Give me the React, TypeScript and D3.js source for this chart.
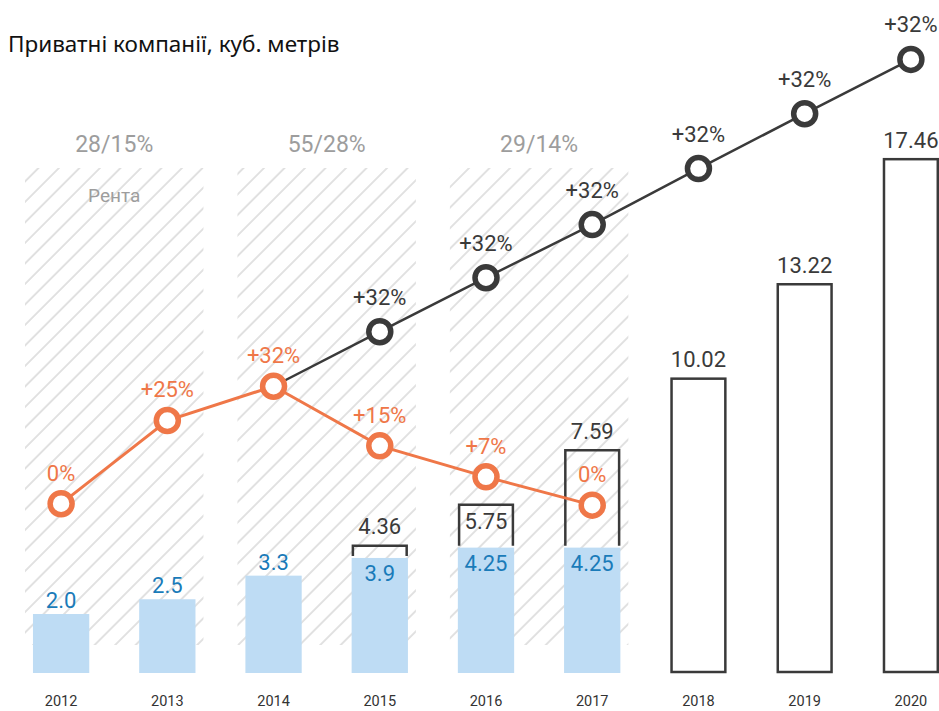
import React from 'react';
import * as d3 from 'd3';

const years = ['2012', '2013', '2014', '2015', '2016', '2017', '2018', '2019', '2020'];
// light-blue "rent" bars
const rentYears = ['2012', '2013', '2014', '2015', '2016', '2017'];
const rentValues = [2.0, 2.5, 3.3, 3.9, 4.25, 4.25];
const rentLabels = ['2.0', '2.5', '3.3', '3.9', '4.25', '4.25'];
// totals (brackets / outlined bars)
const totalYears = ['2015', '2016', '2017', '2018', '2019', '2020'];
const totalValues = [4.36, 5.75, 7.59, 10.02, 13.22, 17.46];
const totalLabels = ['4.36', '5.75', '7.59', '10.02', '13.22', '17.46'];
const totalLabelInside = ['2016'];
// orange growth line (levels, same vertical units as bars)
const orangeYears = ['2012', '2013', '2014', '2015', '2016', '2017'];
const orangeLevels = [5.74, 8.56, 9.72, 7.7, 6.65, 5.69];
const orangeLabels = ['0%', '+25%', '+32%', '+15%', '+7%', '0%'];
// black growth line
const blackYears = ['2014', '2015', '2016', '2017', '2018', '2019', '2020'];
const blackLevels = [9.72, 11.57, 13.4, 15.2, 17.1, 18.96, 20.8];
const blackLabels = ['', '+32%', '+32%', '+32%', '+32%', '+32%', '+32%'];
// hatched groups
const groupStart = ['2012', '2014', '2016'];
const groupEnd = ['2013', '2015', '2017'];
const groupLabels = ['28/15%', '55/28%', '29/14%'];
const rentLabel = 'Рента';
const title = 'Приватні компанії, куб. метрів';

const W = 939;
const H = 711;
const ORANGE = '#ef7748';
const DARK = '#3a3a3a';
const BLUE_FILL = '#bedcf4';
const BLUE_TEXT = '#1a7bb9';
const GREY = '#9d9d9d';
const NUM_FONT = 'Roboto, sans-serif';

export default function App() {
  const x = d3.scaleBand<string>().domain(years).range([8, 964]).paddingInner(0.47).paddingOuter(0.235);
  const y = d3.scaleLinear().domain([0, 20]).range([673, 673 - 590]);
  const bw = x.bandwidth();
  const cx = (yr: string) => (x(yr) as number) + bw / 2;
  const step = x.step();

  const orangePts: [number, number][] = orangeYears.map((yr, i) => [cx(yr), y(orangeLevels[i])]);
  const blackPts: [number, number][] = blackYears.map((yr, i) => [cx(yr), y(blackLevels[i])]);
  const line = d3.line();

  const hatchTop = 168;
  const hatchBottom = 645;

  return (
    <svg width={W} height={H} style={{ position: 'absolute', left: 0, top: 0, background: '#fff' }}>
      <defs>
        <pattern id="hatch" patternUnits="userSpaceOnUse" width={14.5} height={14.5} patternTransform="rotate(45)">
          <line x1={1} y1={0} x2={1} y2={14.5} stroke="#c9c9c9" strokeWidth={1.1} />
        </pattern>
      </defs>
      <rect x={0} y={0} width={W} height={H} fill="#fff" />
      <text x={8} y={52} fontFamily="'Noto Sans', sans-serif" fontSize={22.5} fill="#111">{title}</text>

      {groupStart.map((g, i) => {
        const x0 = cx(g) - 0.34 * step;
        const x1 = cx(groupEnd[i]) + 0.34 * step;
        return (
          <g key={'grp' + i}>
            <rect x={x0} y={hatchTop} width={x1 - x0} height={hatchBottom - hatchTop} fill="url(#hatch)" />
            <text x={(x0 + x1) / 2} y={152} textAnchor="middle" fontFamily={NUM_FONT} fontSize={23} fill={GREY}>{groupLabels[i]}</text>
            {i === 0 && (
              <text x={(x0 + x1) / 2} y={202} textAnchor="middle" fontFamily={NUM_FONT} fontSize={19} fill={GREY}>{rentLabel}</text>
            )}
          </g>
        );
      })}

      {rentYears.map((yr, i) => (
        <rect key={'rb' + yr} x={x(yr)} y={y(rentValues[i])} width={bw} height={y(0) - y(rentValues[i])} fill={BLUE_FILL} />
      ))}

      {totalYears.map((yr, i) => {
        const x0 = x(yr) as number;
        const ri = rentYears.indexOf(yr);
        const top = y(totalValues[i]);
        if (ri >= 0) {
          const bot = y(rentValues[ri]) - 2;
          const p = d3.path();
          p.moveTo(x0 + 1.25, bot);
          p.lineTo(x0 + 1.25, top + 1.25);
          p.lineTo(x0 + bw - 1.25, top + 1.25);
          p.lineTo(x0 + bw - 1.25, bot);
          return <path key={'br' + yr} d={p.toString()} fill="none" stroke={DARK} strokeWidth={2.5} />;
        }
        return (
          <rect key={'ob' + yr} x={x0 + 1.25} y={top + 1.25} width={bw - 2.5} height={y(0) - 1 - top - 1.25}
            fill="#fff" stroke={DARK} strokeWidth={2.5} />
        );
      })}

      {rentYears.map((yr, i) => {
        const hasTotal = totalYears.indexOf(yr) >= 0;
        const ty = hasTotal ? y(rentValues[i]) + 23 : y(rentValues[i]) - 6;
        return (
          <text key={'rl' + yr} x={cx(yr)} y={ty} textAnchor="middle" fontFamily={NUM_FONT} fontSize={22} fill={BLUE_TEXT}>{rentLabels[i]}</text>
        );
      })}

      {totalYears.map((yr, i) => {
        const inside = totalLabelInside.indexOf(yr) >= 0;
        const ty = inside ? y(totalValues[i]) + 26 : y(totalValues[i]) - 10;
        return (
          <text key={'tl' + yr} x={cx(yr)} y={ty} textAnchor="middle" fontFamily={NUM_FONT} fontSize={22} fill={DARK}>{totalLabels[i]}</text>
        );
      })}

      <path d={line(blackPts) as string} fill="none" stroke={DARK} strokeWidth={2.5} />
      <path d={line(orangePts) as string} fill="none" stroke={ORANGE} strokeWidth={3} />

      {blackPts.map((p, i) => blackLabels[i] ? (
        <g key={'bc' + i}>
          <circle cx={p[0]} cy={p[1]} r={11} fill="#fff" stroke={DARK} strokeWidth={5.5} />
          <text x={p[0]} y={p[1] - 27} textAnchor="middle" fontFamily={NUM_FONT} fontSize={22} fill={DARK}>{blackLabels[i]}</text>
        </g>
      ) : null)}

      {orangePts.map((p, i) => (
        <g key={'oc' + i}>
          <circle cx={p[0]} cy={p[1]} r={11} fill="#fff" stroke={ORANGE} strokeWidth={5.5} />
          <text x={p[0]} y={p[1] - 23} textAnchor="middle" fontFamily={NUM_FONT} fontSize={22} fill={ORANGE}>{orangeLabels[i]}</text>
        </g>
      ))}

      {years.map((yr) => (
        <text key={'yl' + yr} x={cx(yr)} y={706} textAnchor="middle" fontFamily={NUM_FONT} fontSize={14.5} fill="#333">{yr}</text>
      ))}
    </svg>
  );
}
